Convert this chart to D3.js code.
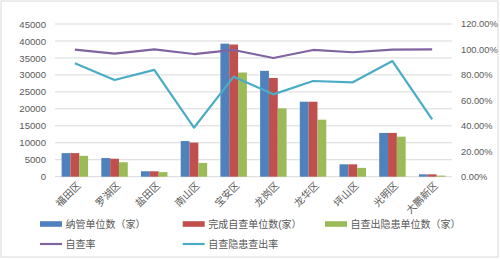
<!DOCTYPE html>
<html>
<head>
<meta charset="utf-8">
<script src="https://cdn.jsdelivr.net/npm/d3@7/dist/d3.min.js"></script>
<style>
html,body{margin:0;padding:0;background:#fff;}
svg{display:block;}
text{font-family:"Liberation Sans",Arial,"Noto Sans CJK SC",sans-serif;fill:#595959;}
</style>
</head>
<body>
<svg id="chart" width="500" height="259"></svg>
<script>
const categories = ['福田区','罗湖区','盐田区','南山区','宝安区','龙岗区','龙华区','坪山区','光明区','大鹏新区'];
const managed   = [6950, 5500, 1600, 10500, 39200, 31200, 22100, 3650, 12900, 700];
const completed = [6950, 5300, 1600, 10050, 38950, 29100, 22100, 3650, 12900, 700];
const hazard    = [6150, 4250, 1350, 4050, 30700, 20150, 16800, 2600, 11800, 330];
const selfCheckRate = [99.8, 96.7, 100, 96.4, 99.6, 93.3, 99.6, 97.8, 99.8, 100];
const hazardRate    = [89.1, 76.0, 83.9, 38.5, 78.6, 64.7, 75.2, 74.2, 90.9, 45.1];
const leftTicks  = [0,5000,10000,15000,20000,25000,30000,35000,40000,45000];
const rightTicks = [0,20,40,60,80,100,120];
const barSeries = [
  {name:'纳管单位数（家）', values: managed, color:'#4F81BD'},
  {name:'完成自查单位数(家）', values: completed, color:'#C0504D'},
  {name:'自查出隐患单位数（家）', values: hazard, color:'#9BBB59'}
];
const lineSeries = [
  {name:'自查率', values: selfCheckRate, color:'#8064A2'},
  {name:'自查隐患查出率', values: hazardRate, color:'#4BACC6'}
];

const svg = d3.select('#chart');
svg.append('rect').attr('x',1).attr('y',1).attr('width',497).attr('height',256)
  .attr('fill','#fff').attr('stroke','#d9d9d9').attr('stroke-width',1);

const plot = {left:55, right:452, top:24, bottom:176.7};
const x = d3.scaleBand().domain(categories).range([plot.left, plot.right]).paddingInner(1/3).paddingOuter(1/6);
const xs = d3.scaleBand().domain(d3.range(barSeries.length)).range([0, x.bandwidth()]);
const yL = d3.scaleLinear().domain([0,45000]).range([plot.bottom, plot.top]);
const yR = d3.scaleLinear().domain([0,120]).range([plot.bottom, plot.top]);

// gridlines
svg.append('g').selectAll('line').data(leftTicks).join('line')
  .attr('x1',plot.left).attr('x2',plot.right)
  .attr('y1',d=>yL(d)).attr('y2',d=>yL(d))
  .attr('stroke','#d9d9d9').attr('stroke-width',1);

// left axis
const axL = d3.axisLeft(yL).tickValues(leftTicks).tickSize(0).tickPadding(0).tickFormat(d3.format('d'));
svg.append('g').attr('transform','translate(46,0)').call(axL)
  .call(g=>g.select('.domain').remove())
  .call(g=>g.selectAll('text').attr('font-size','9.6px').style('font-family','"Liberation Sans",Arial,sans-serif').attr('fill','#595959'));

// right axis
const axR = d3.axisRight(yR).tickValues(rightTicks).tickSize(0).tickPadding(0).tickFormat(d=>d.toFixed(2)+'%');
svg.append('g').attr('transform','translate(461,0)').call(axR)
  .call(g=>g.select('.domain').remove())
  .call(g=>g.selectAll('text').attr('font-size','9.3px').style('font-family','"Liberation Sans",Arial,sans-serif').attr('fill','#595959'));

// bars
barSeries.forEach((s,si)=>{
  svg.append('g').selectAll('rect').data(s.values).join('rect')
    .attr('x',(d,i)=>x(categories[i])+xs(si))
    .attr('width',xs.bandwidth())
    .attr('y',d=>yL(d))
    .attr('height',d=>yL(0)-yL(d))
    .attr('fill',s.color);
});

// lines
lineSeries.forEach(s=>{
  const line = d3.line().x((d,i)=>x(categories[i])+x.bandwidth()/2).y(d=>yR(d));
  svg.append('path').datum(s.values).attr('d',line)
    .attr('fill','none').attr('stroke',s.color).attr('stroke-width',2.2).attr('stroke-linejoin','round');
});

// x labels
svg.append('g').selectAll('text').data(categories).join('text')
  .attr('transform',d=>`translate(${x(d)+x.bandwidth()/2+4},${plot.bottom+7}) rotate(-45)`)
  .attr('text-anchor','end').attr('dy','0.35em')
  .attr('font-size','10px').text(d=>d);

// legend
const legendItems = [
  {s:barSeries[0], type:'bar', x:40, y:224},
  {s:barSeries[1], type:'bar', x:182.7, y:224},
  {s:barSeries[2], type:'bar', x:325, y:224},
  {s:lineSeries[0], type:'line', x:40, y:244},
  {s:lineSeries[1], type:'line', x:182.7, y:244}
];
const lg = svg.append('g').selectAll('g').data(legendItems).join('g')
  .attr('transform',d=>`translate(${d.x},${d.y})`);
lg.filter(d=>d.type==='bar').append('rect')
  .attr('x',0).attr('y',-2.8).attr('width',22).attr('height',5.6).attr('fill',d=>d.s.color);
lg.filter(d=>d.type==='line').append('line')
  .attr('x1',0).attr('x2',22).attr('y1',0).attr('y2',0).attr('stroke',d=>d.s.color).attr('stroke-width',2.2);
lg.append('text').attr('x',25.5).attr('dy','0.35em').attr('font-size','10px').text(d=>d.s.name);
</script>
</body>
</html>
